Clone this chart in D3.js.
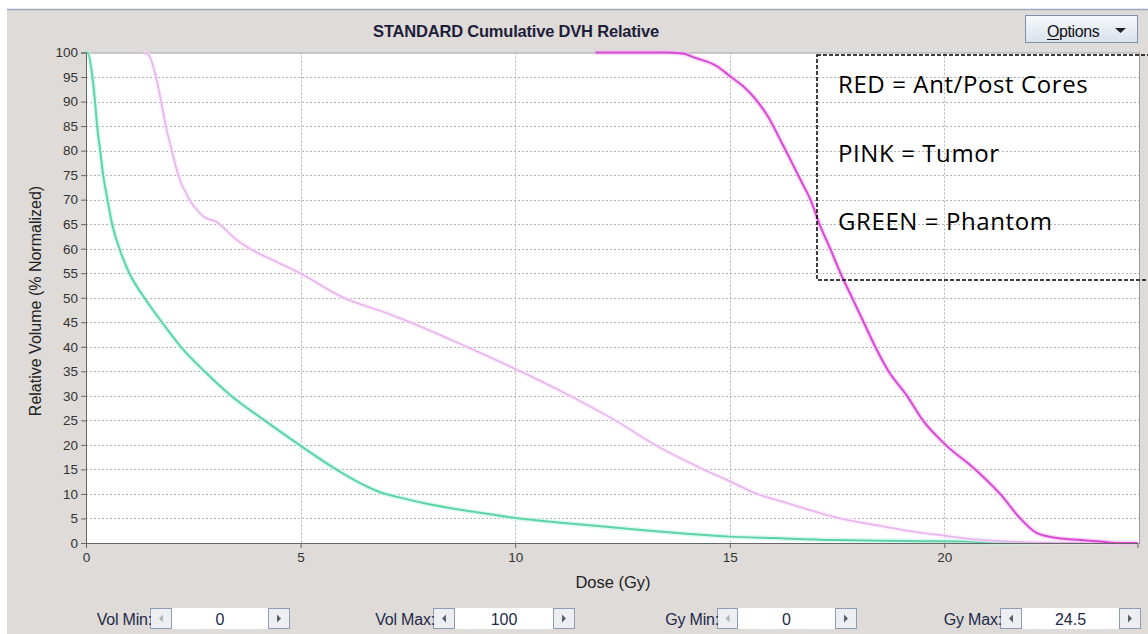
<!DOCTYPE html>
<html>
<head>
<meta charset="utf-8">
<script src="https://cdn.jsdelivr.net/npm/d3@7"></script>
<style>
  html, body { margin: 0; padding: 0; background: #ffffff; }
  svg { display: block; font-family: "Liberation Sans", Arial, sans-serif; }
</style>
</head>
<body>
<svg id="chart" width="1148" height="634"></svg>
<script>
// Cumulative dose-volume histograms (dose in Gy, relative volume in %)
const phantomDose = [0, 0.03, 0.15, 0.21, 0.26, 0.33, 0.40, 0.50, 0.61, 0.78, 1.01, 1.36, 1.77, 2.21, 2.76, 3.38, 4.16, 4.97, 5.83, 6.3, 6.84, 7.3, 8.0, 9.0, 10.0, 11.0, 12.0, 13.0, 14.0, 15.0, 16.0, 17.4, 18.5, 19.5, 20.5, 21.0, 22.0];
const phantomVolume = [100, 100, 95, 90, 85, 80, 75, 70, 65, 60, 55, 50, 45, 40, 35, 30, 25, 20, 15, 12.6, 10.4, 9.3, 7.9, 6.4, 5.1, 4.2, 3.4, 2.6, 1.9, 1.3, 1.0, 0.6, 0.45, 0.35, 0.3, 0.1, 0];

const tumorDose = [1.34, 1.45, 1.63, 1.75, 1.86, 2.0, 2.15, 2.38, 2.73, 3.05, 3.51, 3.82, 4.4, 4.99, 6.0, 7.0, 7.55, 8.87, 10.12, 11.28, 12.33, 13.26, 14.39, 15.0, 15.64, 16.2, 17.58, 18.5, 19.3, 20.0, 20.9, 21.5, 22.3, 23.0, 24.1];
const tumorVolume = [100, 99.6, 95, 90, 85, 80, 75, 70.5, 66.6, 65.4, 61.8, 60, 57.5, 55, 50, 46.9, 45, 40, 35, 30, 25, 20, 15, 12.6, 10, 8.5, 5, 3.5, 2.3, 1.5, 0.6, 0.3, 0.1, 0.05, 0];

const coresDose = [11.87, 13.5, 13.9, 14.2, 14.7, 15.0, 15.3, 15.6, 15.9, 16.2, 16.45, 16.68, 16.88, 17.09, 17.34, 17.58, 17.85, 18.12, 18.39, 18.7, 19.13, 19.5, 20.03, 20.72, 21.3, 21.77, 22.16, 22.63, 23.17, 23.64, 24.1, 24.5];
const coresVolume = [100, 100, 99.8, 98.9, 97.2, 95.2, 93.2, 90.5, 86.8, 81.8, 77.5, 73.5, 70, 65, 60, 55, 50, 45, 40, 35, 30, 25, 20, 15, 10, 5, 2, 1, 0.6, 0.3, 0, 0];

const doseTicks = [0, 5, 10, 15, 20];
const volumeTicks = [0, 5, 10, 15, 20, 25, 30, 35, 40, 45, 50, 55, 60, 65, 70, 75, 80, 85, 90, 95, 100];

const legendLines = ["RED = Ant/Post Cores", "PINK = Tumor", "GREEN = Phantom"];

const spinnerLabels = ["Vol Min:", "Vol Max:", "Gy Min:", "Gy Max:"];
const spinnerValues = ["0", "100", "0", "24.5"];

const titleText = "STANDARD Cumulative DVH Relative";

// ---------------------------------------------------------------
const svg = d3.select("#chart");
const W = 1148, H = 634;

// window panel
svg.append("rect").attr("x", 0).attr("y", 0).attr("width", W).attr("height", H).attr("fill", "#ffffff");
svg.append("rect").attr("x", 7).attr("y", 10).attr("width", W - 7).attr("height", H - 10).attr("fill", "#dedbd8");
svg.append("line").attr("x1", 7).attr("x2", W).attr("y1", 9.5).attr("y2", 9.5)
  .attr("stroke", "#9aa9bb").attr("stroke-width", 1.5);

// title
svg.append("text").attr("x", 516).attr("y", 37).attr("text-anchor", "middle")
  .attr("font-size", 16.5).attr("font-weight", "bold").attr("fill", "#1e1e3a")
  .attr("letter-spacing", -0.2)
  .text(titleText);

// options button
const grad = svg.append("defs").append("linearGradient").attr("id", "btnGrad")
  .attr("x1", 0).attr("x2", 0).attr("y1", 0).attr("y2", 1);
grad.append("stop").attr("offset", "0%").attr("stop-color", "#f7f9fc");
grad.append("stop").attr("offset", "100%").attr("stop-color", "#d9e1ec");
svg.append("rect").attr("x", 1025.5).attr("y", 15.5).attr("width", 112).attr("height", 27)
  .attr("fill", "url(#btnGrad)").attr("stroke", "#7f91aa");
svg.append("text").attr("x", 1047).attr("y", 37).attr("font-size", 16).attr("letter-spacing", -0.4)
  .attr("fill", "#111").text("Options");
svg.append("line").attr("x1", 1047).attr("x2", 1059).attr("y1", 39.5).attr("y2", 39.5)
  .attr("stroke", "#111").attr("stroke-width", 1);
svg.append("path").attr("d", "M1115,28 L1126,28 L1120.5,33 Z").attr("fill", "#222");

// plot area
const margin = { left: 86, right: 1137.5, top: 52.5, bottom: 543 };
const x = d3.scaleLinear().domain([0, 24.5]).range([margin.left, margin.right]);
const y = d3.scaleLinear().domain([0, 100]).range([margin.bottom, margin.top]);

svg.append("rect").attr("x", margin.left).attr("y", margin.top)
  .attr("width", 1140 - margin.left).attr("height", margin.bottom - margin.top)
  .attr("fill", "#ffffff");

// grid
const grid = svg.append("g");
grid.selectAll("line.h").data(volumeTicks.filter(v => v > 0 && v < 100)).join("line")
  .attr("x1", margin.left).attr("x2", 1140)
  .attr("y1", d => Math.round(y(d)) + 0.5).attr("y2", d => Math.round(y(d)) + 0.5)
  .attr("stroke", "#b4b4b4").attr("stroke-dasharray", "2,2");
grid.selectAll("line.v").data(doseTicks.filter(v => v > 0)).join("line")
  .attr("x1", d => Math.round(x(d)) + 0.5).attr("x2", d => Math.round(x(d)) + 0.5)
  .attr("y1", margin.top).attr("y2", margin.bottom)
  .attr("stroke", "#b4b4b4").attr("stroke-dasharray", "2,2");

// plot border
svg.append("rect").attr("x", margin.left + 0.5).attr("y", margin.top + 0.5)
  .attr("width", 1140 - margin.left - 1).attr("height", margin.bottom - margin.top)
  .attr("fill", "none").attr("stroke", "#9a9a9a");

// curves
const line = d3.line().x(d => x(d[0])).y(d => y(d[1])).curve(d3.curveMonotoneX);
const series = [
  { dose: phantomDose, vol: phantomVolume, color: "#5ed4a6", halo: "#c8f5ea", width: 2 },
  { dose: tumorDose, vol: tumorVolume, color: "#e8b2ee", halo: "#f8e4fa", width: 1.6 },
  { dose: coresDose, vol: coresVolume, color: "#d64ad4", halo: "#f4c2f2", width: 2 }
];
const curves = svg.append("g");
series.forEach(s => {
  const pts = s.dose.map((d, i) => [d, s.vol[i]]);
  curves.append("path").attr("d", line(pts)).attr("fill", "none")
    .attr("stroke", s.halo).attr("stroke-width", s.width + 3).attr("stroke-opacity", 0.6)
    .attr("stroke-linejoin", "round");
  curves.append("path").attr("d", line(pts)).attr("fill", "none")
    .attr("stroke", s.color).attr("stroke-width", s.width).attr("stroke-linejoin", "round");
});

// axes
const yAxis = d3.axisLeft(y).tickValues(volumeTicks).tickSize(5).tickPadding(3);
const gy = svg.append("g").attr("transform", `translate(${margin.left},0)`).call(yAxis);
const xAxis = d3.axisBottom(x).tickValues(doseTicks).tickSize(5).tickPadding(4);
const gx = svg.append("g").attr("transform", `translate(0,${margin.bottom})`).call(xAxis);
[gy, gx].forEach(g => {
  g.attr("font-family", null);
  g.select(".domain").attr("stroke", "#666");
  g.selectAll(".tick line").attr("stroke", "#666");
  g.selectAll(".tick text").attr("fill", "#333").attr("font-size", 13.5);
});

// axis titles
svg.append("text").attr("transform", "translate(41,301) rotate(-90)").attr("text-anchor", "middle")
  .attr("font-size", 16).attr("fill", "#222").text("Relative Volume (% Normalized)");
svg.append("text").attr("x", 613).attr("y", 588).attr("text-anchor", "middle")
  .attr("font-size", 16.5).attr("fill", "#222").text("Dose (Gy)");

// legend box
svg.append("rect").attr("x", 817).attr("y", 55).attr("width", 340).attr("height", 225)
  .attr("fill", "none").attr("stroke", "#000").attr("stroke-width", 1.5)
  .attr("stroke-dasharray", "4,2");
svg.selectAll("text.legend").data(legendLines).join("text")
  .attr("class", "legend")
  .attr("x", 838).attr("y", (d, i) => [93, 162, 230][i])
  .style("font-family", "'Open Sans', sans-serif").attr("font-size", 24)
  .attr("letter-spacing", 0.6).attr("fill", "#000")
  .text(d => d);

// range spinners
const spinners = [
  { left: 150, field: 172, right: 268, end: 290 },
  { left: 433, field: 455, right: 553, end: 575 },
  { left: 717, field: 738, right: 835, end: 857 },
  { left: 1000, field: 1022, right: 1119, end: 1141 }
];
const sp = svg.append("g");
spinners.forEach((s, i) => {
  const top = 608, h = 21;
  sp.append("rect").attr("x", s.field).attr("y", top).attr("width", s.right - s.field).attr("height", h)
    .attr("fill", "#ffffff");
  [s.left, s.right].forEach((bx, k) => {
    const bw = (k === 0 ? s.field : s.end) - bx;
    sp.append("rect").attr("x", bx + 0.5).attr("y", top + 0.5).attr("width", bw - 1).attr("height", h - 1)
      .attr("fill", "#eceef2").attr("stroke", "#8e9db3");
    const cx = bx + bw / 2, cy = top + h / 2;
    const dim = (i === 0 || i === 2) && k === 0;
    const d = k === 0 ? `M${cx + 2},${cy - 4} L${cx - 2},${cy} L${cx + 2},${cy + 4} Z`
                      : `M${cx - 2},${cy - 4} L${cx + 2},${cy} L${cx - 2},${cy + 4} Z`;
    sp.append("path").attr("d", d).attr("fill", dim ? "#b0b4ba" : "#5a5e66");
  });
  sp.append("text").attr("x", s.left + 2).attr("y", 625).attr("text-anchor", "end")
    .attr("font-size", 16).attr("letter-spacing", -0.2).attr("fill", "#1e2a4a").text(spinnerLabels[i]);
  sp.append("text").attr("x", (s.field + s.right) / 2).attr("y", 625).attr("text-anchor", "middle")
    .attr("font-size", 16).attr("fill", "#1e2a4a").text(spinnerValues[i]);
});
</script>
</body>
</html>
